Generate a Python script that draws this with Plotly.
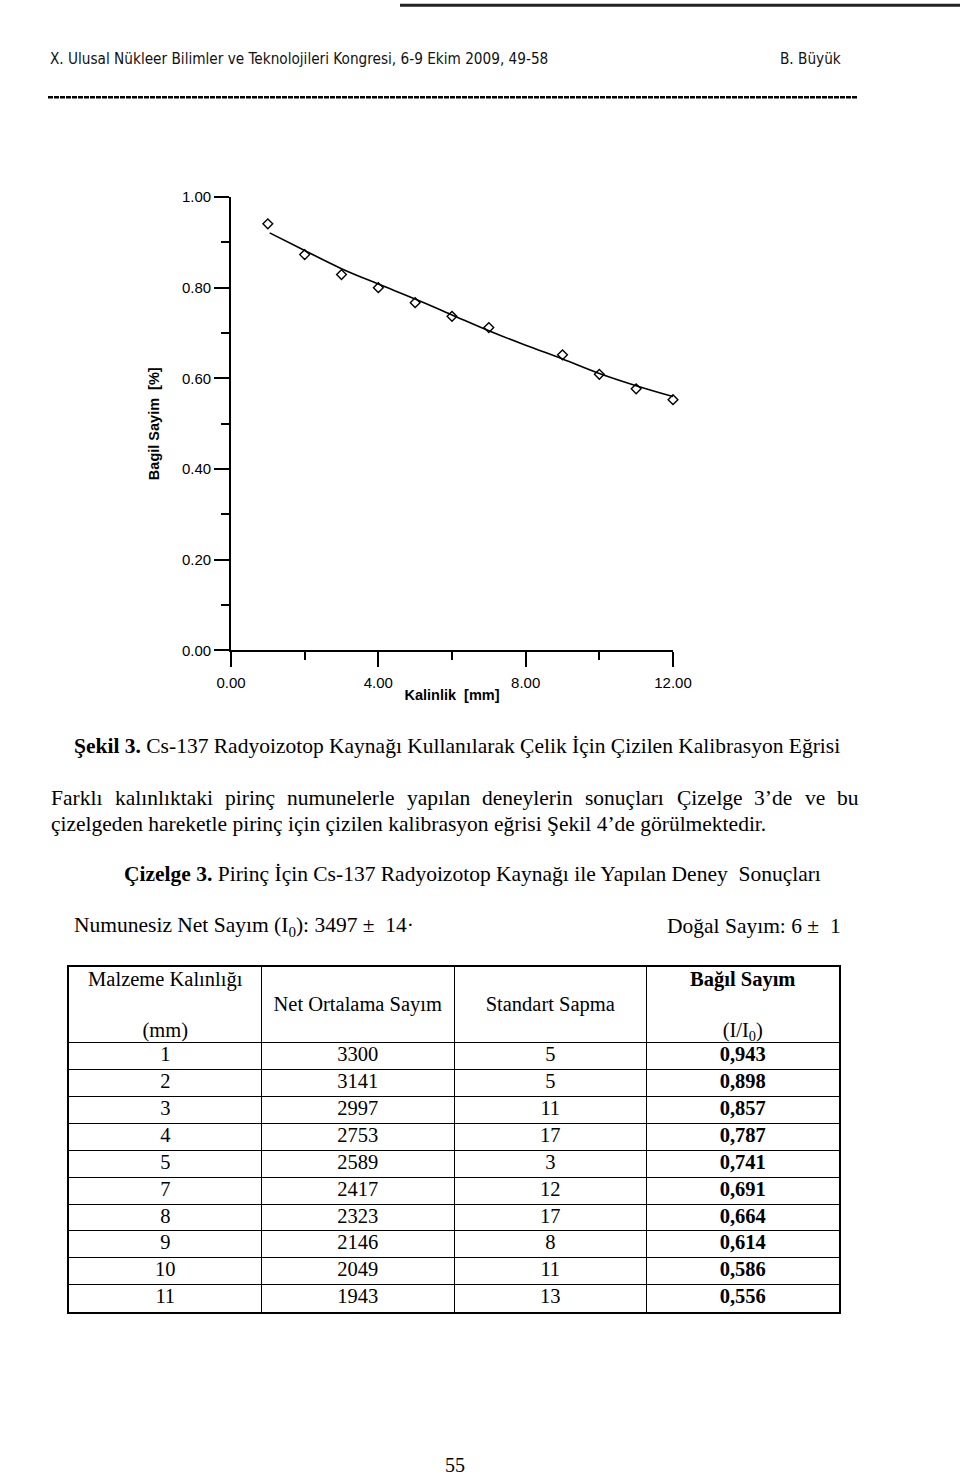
import plotly.graph_objects as go

W, H = 960, 1480

# ---------------- data ----------------
steel_thickness = [1, 2, 3, 4, 5, 6, 7, 9, 10, 11, 12]
steel_relative = [0.941, 0.873, 0.829, 0.800, 0.767, 0.737, 0.712, 0.652, 0.609, 0.577, 0.553]
fit_thickness = [1.05, 2, 3, 4, 5, 6, 7, 8, 9, 10, 11, 12]
fit_relative = [0.921, 0.882, 0.842, 0.808, 0.775, 0.740, 0.705, 0.673, 0.643, 0.611, 0.584, 0.560]

x_tick_vals = [0, 4, 8, 12]
y_tick_vals = [0.0, 0.2, 0.4, 0.6, 0.8, 1.0]

brass_thickness = [1, 2, 3, 4, 5, 7, 8, 9, 10, 11]
brass_net_count = [3300, 3141, 2997, 2753, 2589, 2417, 2323, 2146, 2049, 1943]
brass_std = [5, 5, 11, 17, 3, 12, 17, 8, 11, 13]
brass_relative = [0.943, 0.898, 0.857, 0.787, 0.741, 0.691, 0.664, 0.614, 0.586, 0.556]

SERIF = "Liberation Serif, Times New Roman, serif"
SANS = "Liberation Sans, Arial, sans-serif"
NARROW = "Liberation Sans Narrow, Arial Narrow, DejaVu Sans Condensed, sans-serif"

# page-pixel -> paper fraction (calibrated against the rendered page)
OX, SX = 15.0, 926.0
OY, SY = 6.7, 1465.0


def px(p):
    return (p - OX) / SX


def py(p):
    return 1 - (p - OY) / SY


BODY = 21.5
TABLE_FONT = 20.5

fig = go.Figure()

# ---------------- chart ----------------
fig.add_trace(go.Scatter(
    x=fit_thickness, y=fit_relative, mode="lines",
    line=dict(color="black", width=1.6, shape="spline"),
    cliponaxis=False, showlegend=False, hoverinfo="skip",
))
fig.add_trace(go.Scatter(
    x=steel_thickness, y=steel_relative, mode="markers",
    marker=dict(symbol="diamond-open", size=7.5, color="black", line=dict(width=1.4, color="black")),
    cliponaxis=False, showlegend=False,
))

# ---------------- table (drawn on its own axes) ----------------
HEADER_H, ROW_H = 76.0, 26.9
n_rows = len(brass_thickness)
table_h = HEADER_H + n_rows * ROW_H
row_centers = [HEADER_H + (i + 0.5) * ROW_H for i in range(n_rows)]
cell_cols = [
    [str(v) for v in brass_thickness],
    [str(v) for v in brass_net_count],
    [str(v) for v in brass_std],
    ["<b>" + f"{v:.3f}".replace(".", ",") + "</b>" for v in brass_relative],
]
for ci, col in enumerate(cell_cols):
    fig.add_trace(go.Scatter(
        x=[ci + 0.5] * n_rows, y=row_centers, text=col, mode="text",
        textposition="middle center",
        textfont=dict(family=SERIF, size=TABLE_FONT, color="black"),
        xaxis="x2", yaxis="y2", showlegend=False, hoverinfo="skip",
    ))

header_x = [0.5, 0.5, 1.5, 2.5, 3.5, 3.5]
header_y = [14, 65, 39, 39, 14, 65]
header_text = ["Malzeme Kalınlığı", "(mm)", "Net Ortalama Sayım", "Standart Sapma",
               "<b>Bağıl Sayım</b>", "(I/I<sub>0</sub>)"]
fig.add_trace(go.Scatter(
    x=header_x, y=header_y, text=header_text, mode="text",
    textposition="middle center",
    textfont=dict(family=SERIF, size=TABLE_FONT, color="black"),
    xaxis="x2", yaxis="y2", showlegend=False, hoverinfo="skip",
))

axis_common = dict(
    showline=True, linecolor="black", linewidth=1.8,
    ticks="outside", tickcolor="black", tickwidth=1.5, ticklen=15,
    showgrid=False, zeroline=False,
    tickfont=dict(family=SANS, size=15, color="black"),
    tickformat=".2f",
)

fig.update_layout(
    width=W, height=H,
    margin=dict(l=0, r=0, t=0, b=0),
    paper_bgcolor="white", plot_bgcolor="white",
    xaxis=dict(
        domain=[px(231), px(673)], range=[0, 12],
        tickmode="array", tickvals=x_tick_vals,
        minor=dict(dtick=2, tick0=0, ticks="outside", ticklen=8, tickcolor="black", tickwidth=1.5),
        ticklabelstandoff=3,
        title=dict(text="<b>Kalinlik\u00a0 [mm]</b>", font=dict(family=SANS, size=14.5, color="black"), standoff=0),
        **axis_common,
    ),
    yaxis=dict(
        domain=[py(649), py(195)], range=[0, 1],
        tickmode="array", tickvals=y_tick_vals,
        minor=dict(dtick=0.1, tick0=0, ticks="outside", ticklen=8, tickcolor="black", tickwidth=1.5),
        title=dict(text="<b>Bagil Sayim\u00a0 [%]</b>", font=dict(family=SANS, size=14.5, color="black"), standoff=19),
        **axis_common,
    ),
    xaxis2=dict(
        domain=[px(69), px(839)], range=[0, 4], anchor="y2",
        tickmode="array", tickvals=[1, 2, 3], showticklabels=False, ticks="",
        showgrid=True, gridcolor="black", gridwidth=1.3,
        showline=True, mirror=True, linecolor="black", linewidth=1.7, zeroline=False,
    ),
    yaxis2=dict(
        domain=[py(966 + table_h), py(966)], range=[table_h, 0], anchor="x2",
        tickmode="array", tickvals=[HEADER_H + i * ROW_H for i in range(n_rows)],
        showticklabels=False, ticks="",
        showgrid=True, gridcolor="black", gridwidth=1.3,
        showline=True, mirror=True, linecolor="black", linewidth=1.7, zeroline=False,
    ),
)


def note(text, x, y, size, family=SERIF, xanchor="left", color="black"):
    fig.add_annotation(text=text, x=px(x), y=py(y), xref="paper", yref="paper",
                       xanchor=xanchor, yanchor="middle", showarrow=False,
                       font=dict(family=family, size=size, color=color))


note("X. Ulusal Nükleer Bilimler ve Teknolojileri Kongresi, 6-9 Ekim 2009, 49-58", 48, 57, 15.2, NARROW, color="#111")
note("B. Büyük", 843, 57, 15.2, NARROW, xanchor="right", color="#111")

note("<b>Şekil 3.</b> Cs-137 Radyoizotop Kaynağı Kullanılarak Çelik İçin Çizilen Kalibrasyon Eğrisi", 72, 745, BODY)

# justified first paragraph line: spread words between the margins
TIMES_W = {
    "a": .444, "b": .5, "c": .444, "d": .5, "e": .444, "f": .333, "g": .5, "h": .5, "i": .278,
    "j": .278, "k": .5, "l": .278, "m": .778, "n": .5, "o": .5, "p": .5, "r": .333, "s": .389,
    "t": .278, "u": .5, "v": .5, "y": .5, "z": .444, "ı": .278, "ç": .444, "ğ": .5, "ş": .389,
    "ö": .5, "ü": .5, "F": .556, "Ç": .667, "3": .5, "’": .333,
}
line1_words = ["Farklı", "kalınlıktaki", "pirinç", "numunelerle", "yapılan", "deneylerin",
               "sonuçları", "Çizelge", "3’de", "ve", "bu"]
widths = [sum(TIMES_W.get(ch, .5) for ch in w) * BODY for w in line1_words]
L, R = 49, 857
gap = (R - L - sum(widths)) / (len(line1_words) - 1)
xpos = L
for w, wd in zip(line1_words, widths):
    note(w, xpos, 797, BODY)
    xpos += wd + gap

note("çizelgeden hareketle pirinç için çizilen kalibrasyon eğrisi Şekil 4’de görülmektedir.", 49, 823, BODY)
note("<b>Çizelge 3.</b> Pirinç İçin Cs-137 Radyoizotop Kaynağı ile Yapılan Deney\u00a0 Sonuçları", 472, 873, BODY, xanchor="center")
note("Numunesiz Net Sayım (I<sub>0</sub>): 3497 ±\u00a0 14·", 72, 925, BODY)
note("Doğal Sayım: 6 ±\u00a0 1", 843, 925, BODY, xanchor="right")
note("55", 455, 1465, 20, xanchor="center")

fig.add_shape(type="line", xref="paper", yref="paper", x0=px(48), x1=px(858), y0=py(95), y1=py(95),
              line=dict(color="black", width=2.5, dash="5px,1px"))
fig.add_shape(type="line", xref="paper", yref="paper", x0=px(400), x1=px(960), y0=py(3), y1=py(3),
              line=dict(color="#222", width=3))

fig.write_html("out.html")
